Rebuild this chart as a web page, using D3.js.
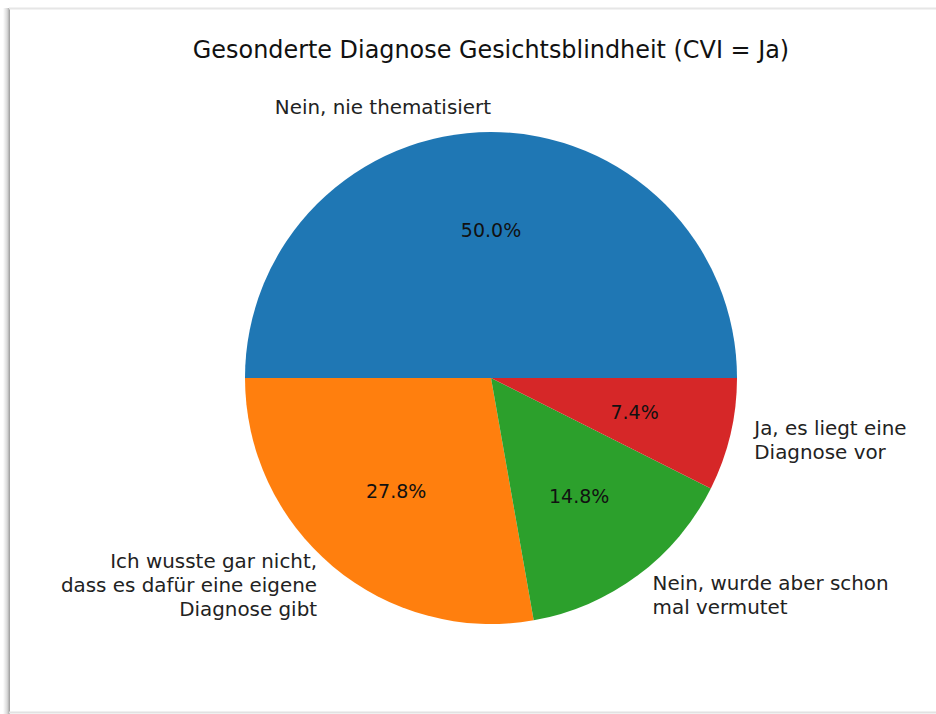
<!DOCTYPE html>
<html>
<head>
<meta charset="utf-8">
<script src="https://cdn.jsdelivr.net/npm/d3@7"></script>
<style>
  body { margin: 0; background: #fff; }
  svg { display: block; font-family: "DejaVu Sans", sans-serif; }
</style>
</head>
<body>
<div id="chart"></div>
<script>
// data
var categories = [
  ["Nein, nie thematisiert"],
  ["Ich wusste gar nicht,", "dass es dafür eine eigene", "Diagnose gibt"],
  ["Nein, wurde aber schon", "mal vermutet"],
  ["Ja, es liegt eine", "Diagnose vor"]
];
var values = [27, 15, 8, 4];
var colors = ["#1f77b4", "#ff7f0e", "#2ca02c", "#d62728"];
var title = "Gesonderte Diagnose Gesichtsblindheit (CVI = Ja)";

var width = 936, height = 714;
var cx = 491, cy = 378, r = 246;
var fontSize = 19.9, lineH = 23.8;

var svg = d3.select("#chart").append("svg")
    .attr("width", width)
    .attr("height", height);

// frame of the screenshot
var defs = svg.append("defs");
var grad = defs.append("linearGradient").attr("id", "leftShadow");
grad.append("stop").attr("offset", "0%").attr("stop-color", "#fff");
grad.append("stop").attr("offset", "60%").attr("stop-color", "#d8d8d8");
grad.append("stop").attr("offset", "100%").attr("stop-color", "#9a9a9a");
svg.append("rect").attr("x", 3).attr("y", 8).attr("width", 7).attr("height", height - 8)
    .attr("fill", "url(#leftShadow)");
svg.append("line").attr("x1", 9).attr("x2", width).attr("y1", 8.5).attr("y2", 8.5)
    .attr("stroke", "#e6e6e6").attr("stroke-width", 2);
svg.append("line").attr("x1", 9).attr("x2", width).attr("y1", 712.5).attr("y2", 712.5)
    .attr("stroke", "#e2e2e2").attr("stroke-width", 2);

var total = d3.sum(values);

// matplotlib style: start at 3 o'clock, go counterclockwise
var pie = d3.pie().sort(null)
    .startAngle(Math.PI / 2)
    .endAngle(Math.PI / 2 - 2 * Math.PI);

var arcs = pie(values);
var arc = d3.arc().innerRadius(0).outerRadius(r);

var g = svg.append("g").attr("transform", "translate(" + cx + "," + cy + ")");

g.selectAll("path.slice")
  .data(arcs)
  .enter().append("path")
    .attr("class", "slice")
    .attr("d", arc)
    .attr("fill", function(d, i) { return colors[i]; });

function mid(d) { return (d.startAngle + d.endAngle) / 2; }

// percent labels
g.selectAll("text.pct")
  .data(arcs)
  .enter().append("text")
    .attr("class", "pct")
    .attr("x", function(d) { return 0.6 * r * Math.sin(mid(d)); })
    .attr("y", function(d) { return -0.6 * r * Math.cos(mid(d)); })
    .attr("dy", "0.35em")
    .attr("text-anchor", "middle")
    .style("font-size", "19px")
    .attr("fill", "#111")
    .text(function(d) { return (100 * d.value / total).toFixed(1) + "%"; });

// category labels
var lab = g.selectAll("text.lab")
  .data(arcs)
  .enter().append("text")
    .attr("class", "lab")
    .attr("text-anchor", function(d) { return Math.sin(mid(d)) > 1e-6 ? "start" : "end"; })
    .style("font-size", fontSize + "px")
    .attr("fill", "#222");

lab.each(function(d, i) {
  var lines = categories[i];
  var x = 1.1 * r * Math.sin(mid(d));
  var y = -1.1 * r * Math.cos(mid(d));
  var y0 = y - (lines.length - 1) * lineH / 2;
  d3.select(this).selectAll("tspan")
    .data(lines)
    .enter().append("tspan")
      .attr("x", x)
      .attr("y", function(t, j) { return y0 + j * lineH; })
      .attr("dy", "0.35em")
      .text(function(t) { return t; });
});

svg.append("text")
    .attr("x", cx)
    .attr("y", 50)
    .attr("dy", "0.35em")
    .attr("text-anchor", "middle")
    .style("font-size", "23.9px")
    .attr("fill", "#111")
    .text(title);
</script>
</body>
</html>
